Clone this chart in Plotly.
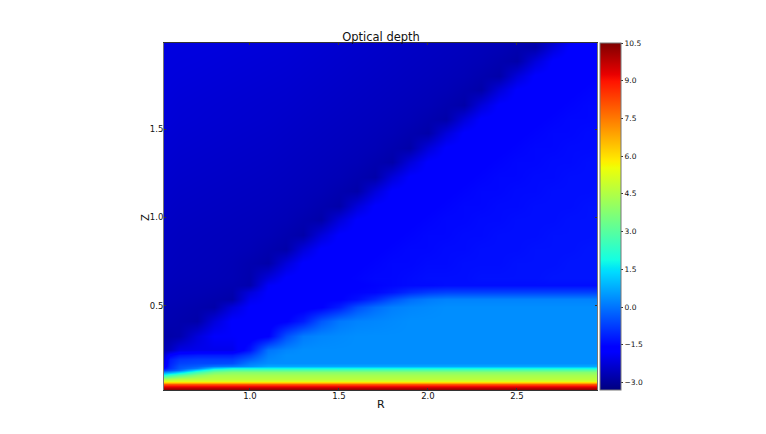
import plotly.graph_objects as go

R_VALUES = [0.5, 0.55, 0.6, 0.7, 0.8, 0.9, 1.0, 1.1, 1.2, 1.3, 1.4, 1.5, 1.6, 1.7, 1.8, 1.9,
            2.0, 2.1, 2.2, 2.3, 2.4, 2.5, 2.6, 2.7, 2.8, 2.9, 3.0]

Z_VALUES = [0.0, 0.025, 0.035, 0.048, 0.058, 0.065, 0.076, 0.09, 0.11, 0.125, 0.138, 0.15, 0.16,
            0.175, 0.2, 0.225, 0.25, 0.332, 0.413, 0.495, 0.54, 0.577, 0.62, 0.658, 0.74,
            0.822, 0.903, 0.985, 1.067, 1.148, 1.23, 1.312, 1.393, 1.475, 1.557, 1.638,
            1.72, 1.802, 1.883, 1.965, 2.05]

# optical depth, bottom row first
DEPTH = [
    [10.5] * 27,
    [10.5] * 27,
    [9.9] * 27,
    [9.1] * 27,
    [8.0] * 27,
    [6.9] * 27,
    [5.2] * 27,
    [4.4, 4.5] + [4.7] * 25,
    [1.8, 2.5, 3.0, 3.8] + [4.3] * 23,
    [0.2, 0.6, 1.2, 2.6, 3.5] + [3.8] * 22,
    [-1.0, -0.5, -0.1, 1.4, 2.6] + [3.0] * 22,
    [-1.8, -0.9, -0.4, 0.1, 1.3] + [1.8] * 22,
    [-2.3, -1.0, -0.5, -0.3, 0.0, 0.1, 0.4] + [0.7] * 20,
    [-2.5, -1.1, -0.7, -0.6, -0.6, -0.55, 0.1] + [0.35] * 20,
    [-2.6, -1.2, -0.9, -0.8, -0.8, -0.8, -0.3, 0.25] + [0.35] * 19,
    [-2.7, -1.6, -1.3, -1.2, -1.2, -1.2, -0.7, 0.15] + [0.35] * 19,
    [-2.75, -2.5, -2.1, -2.0, -2.0, -2.0, -1.3, 0.0, 0.25] + [0.35] * 18,
    [-2.8, -2.8, -2.75, -2.2, -1.8, -1.8, -1.75, -1.6, -0.5, 0.1, 0.25, 0.3] + [0.35] * 15,
    [-2.72, -2.72, -2.75, -2.8, -2.2, -1.75, -1.75, -1.7, -1.6, -1.2, -0.4, 0.05, 0.2, 0.25, 0.3] + [0.35] * 12,
    [-2.65, -2.68, -2.7, -2.75, -2.8, -2.2, -1.75, -1.75, -1.7, -1.7, -1.6, -1.2, -0.5, -0.1, 0.15, 0.25, 0.3] + [0.35] * 10,
    [-2.62, -2.64, -2.66, -2.7, -2.75, -2.8, -1.95, -1.75, -1.7, -1.7, -1.6, -1.6, -1.4, -1.0, -0.5, -0.1, 0.1] + [0.2] * 10,
    [-2.6, -2.62, -2.64, -2.66, -2.7, -2.75, -2.2, -1.75, -1.7, -1.7, -1.65, -1.6, -1.55, -1.5, -1.3, -1.0, -0.8] + [-0.7] * 10,
    [-2.58, -2.6, -2.62, -2.64, -2.66, -2.7, -2.75, -1.85, -1.7, -1.7, -1.65, -1.6, -1.6, -1.55, -1.5, -1.45, -1.45] + [-1.4] * 10,
    [-2.55, -2.57, -2.59, -2.61, -2.63, -2.66, -2.75, -2.2, -1.75, -1.7, -1.65, -1.6, -1.55, -1.5, -1.5, -1.45, -1.4,
     -1.4, -1.4, -1.35, -1.35, -1.35, -1.35, -1.3, -1.3, -1.3, -1.3],
    [-2.52, -2.54, -2.56, -2.58, -2.6, -2.64, -2.72, -2.8, -2.2, -1.75, -1.7, -1.65, -1.6, -1.55, -1.5, -1.5, -1.45,
     -1.45, -1.4, -1.4, -1.4, -1.35, -1.35, -1.35, -1.3, -1.3, -1.3],
    [-2.5, -2.52, -2.54, -2.56, -2.58, -2.6, -2.64, -2.72, -2.8, -2.2, -1.75, -1.7, -1.65, -1.6, -1.55, -1.5, -1.5,
     -1.45, -1.45, -1.4, -1.4, -1.4, -1.35, -1.35, -1.35, -1.3, -1.3],
    [-2.48, -2.5, -2.52, -2.54, -2.56, -2.58, -2.6, -2.64, -2.72, -2.8, -2.2, -1.75, -1.7, -1.65, -1.6, -1.55, -1.5,
     -1.5, -1.45, -1.45, -1.4, -1.4, -1.4, -1.35, -1.35, -1.35, -1.3],
    [-2.45, -2.47, -2.49, -2.51, -2.53, -2.55, -2.57, -2.6, -2.64, -2.72, -2.8, -2.2, -1.75, -1.7, -1.65, -1.6, -1.55,
     -1.5, -1.5, -1.45, -1.45, -1.4, -1.4, -1.4, -1.35, -1.35, -1.35],
    [-2.42, -2.44, -2.46, -2.48, -2.5, -2.52, -2.54, -2.56, -2.6, -2.64, -2.72, -2.8, -2.2, -1.75, -1.7, -1.65, -1.6,
     -1.55, -1.5, -1.5, -1.45, -1.45, -1.4, -1.4, -1.4, -1.35, -1.35],
    [-2.39, -2.41, -2.43, -2.45, -2.47, -2.49, -2.51, -2.53, -2.56, -2.6, -2.64, -2.72, -2.8, -2.2, -1.75, -1.7, -1.65,
     -1.6, -1.55, -1.5, -1.5, -1.45, -1.45, -1.4, -1.4, -1.4, -1.35],
    [-2.36, -2.38, -2.4, -2.42, -2.44, -2.46, -2.48, -2.5, -2.53, -2.56, -2.6, -2.64, -2.72, -2.8, -2.2, -1.75, -1.7,
     -1.65, -1.6, -1.55, -1.5, -1.5, -1.45, -1.45, -1.4, -1.4, -1.4],
    [-2.33, -2.35, -2.37, -2.39, -2.41, -2.43, -2.45, -2.47, -2.5, -2.53, -2.56, -2.6, -2.64, -2.72, -2.8, -2.2, -1.75,
     -1.7, -1.65, -1.6, -1.55, -1.5, -1.5, -1.45, -1.45, -1.4, -1.4],
    [-2.3, -2.32, -2.34, -2.36, -2.38, -2.4, -2.42, -2.44, -2.47, -2.5, -2.53, -2.56, -2.6, -2.64, -2.72, -2.8, -2.2,
     -1.75, -1.7, -1.65, -1.6, -1.55, -1.5, -1.5, -1.45, -1.45, -1.4],
    [-2.27, -2.29, -2.31, -2.33, -2.35, -2.37, -2.39, -2.41, -2.44, -2.47, -2.5, -2.53, -2.56, -2.6, -2.64, -2.72, -2.8,
     -2.2, -1.75, -1.7, -1.65, -1.6, -1.55, -1.5, -1.5, -1.45, -1.45],
    [-2.24, -2.26, -2.28, -2.3, -2.32, -2.34, -2.36, -2.38, -2.41, -2.44, -2.47, -2.5, -2.53, -2.56, -2.6, -2.64, -2.72,
     -2.8, -2.2, -1.75, -1.7, -1.65, -1.6, -1.55, -1.5, -1.5, -1.45],
    [-2.22, -2.24, -2.26, -2.28, -2.3, -2.32, -2.34, -2.36, -2.38, -2.41, -2.44, -2.47, -2.5, -2.53, -2.56, -2.6, -2.64,
     -2.72, -2.8, -2.2, -1.75, -1.7, -1.65, -1.6, -1.55, -1.5, -1.5],
    [-2.2, -2.21, -2.23, -2.25, -2.27, -2.29, -2.31, -2.33, -2.35, -2.38, -2.41, -2.44, -2.47, -2.5, -2.53, -2.56, -2.6,
     -2.64, -2.72, -2.8, -2.2, -1.75, -1.7, -1.65, -1.6, -1.55, -1.5],
    [-2.18, -2.19, -2.2, -2.22, -2.24, -2.26, -2.28, -2.3, -2.32, -2.35, -2.38, -2.41, -2.44, -2.47, -2.5, -2.53, -2.56,
     -2.6, -2.64, -2.72, -2.8, -2.2, -1.75, -1.7, -1.65, -1.6, -1.55],
    [-2.16, -2.17, -2.18, -2.19, -2.21, -2.23, -2.25, -2.27, -2.29, -2.32, -2.35, -2.38, -2.41, -2.44, -2.47, -2.5, -2.53,
     -2.56, -2.6, -2.64, -2.72, -2.8, -2.2, -1.75, -1.7, -1.65, -1.6],
    [-2.14, -2.15, -2.16, -2.17, -2.18, -2.2, -2.22, -2.24, -2.26, -2.29, -2.32, -2.35, -2.38, -2.41, -2.44, -2.47, -2.5,
     -2.53, -2.56, -2.6, -2.64, -2.72, -2.8, -2.2, -1.75, -1.7, -1.65],
    [-2.12, -2.13, -2.14, -2.15, -2.16, -2.18, -2.2, -2.22, -2.24, -2.26, -2.29, -2.32, -2.35, -2.38, -2.41, -2.44, -2.47,
     -2.5, -2.53, -2.56, -2.6, -2.64, -2.72, -2.8, -2.2, -1.75, -1.7],
]

CBAR_TICKS = [-3.0, -1.5, 0.0, 1.5, 3.0, 4.5, 6.0, 7.5, 9.0, 10.5]

# same stops as matplotlib's jet
JET = [
    [0.0, "rgb(0,0,127)"], [0.11, "rgb(0,0,255)"], [0.125, "rgb(0,0,255)"],
    [0.34, "rgb(0,219,255)"], [0.35, "rgb(0,229,247)"], [0.375, "rgb(20,255,226)"],
    [0.64, "rgb(238,255,8)"], [0.65, "rgb(247,246,0)"], [0.66, "rgb(255,237,0)"],
    [0.89, "rgb(255,19,0)"], [0.91, "rgb(232,0,0)"], [1.0, "rgb(127,0,0)"],
]

FONT = "DejaVu Sans"

fig = go.Figure(go.Heatmap(
    x=R_VALUES,
    y=Z_VALUES,
    z=DEPTH,
    zsmooth="best",
    zmin=-3.3,
    zmax=10.5,
    colorscale=JET,
    colorbar=dict(
        x=1.0069, xanchor="left", xpad=0, y=0.5, ypad=0, len=1, thickness=21,
        tickvals=CBAR_TICKS, tickformat=".1f", ticks="outside", ticklen=2, tickwidth=1,
        tickcolor="#333333", tickfont=dict(family=FONT, size=7.5, color="#111111"),
        outlinecolor="#777777", outlinewidth=1,
    ),
))

# the page adds 8px of body margin, so the figure is 8px smaller on the top and left
fig.update_layout(
    width=758,
    height=426,
    margin=dict(l=156, r=169, t=35, b=44),
    paper_bgcolor="white",
    plot_bgcolor="white",
    font=dict(family=FONT, color="#111111"),
    title=dict(text="Optical depth", x=373 / 758, xanchor="center", y=1 - 29 / 426, yanchor="middle",
               font=dict(size=11.5)),
    annotations=[
        dict(text="R", xref="paper", yref="paper", x=0.501, y=-0.043, showarrow=False,
             xanchor="center", yanchor="middle", font=dict(size=11)),
        dict(text="Z", xref="paper", yref="paper", x=-0.0416, y=0.4986, showarrow=False,
             xanchor="center", yanchor="middle", textangle=-90, font=dict(size=10)),
    ],
)
fig.update_xaxes(
    range=[0.517, 2.95], tickvals=[1.0, 1.5, 2.0, 2.5], tickformat=".1f",
    showgrid=False, zeroline=False, showline=True, linecolor="#333333", linewidth=1, mirror="allticks",
    ticks="inside", ticklen=2, tickcolor="#333333", tickfont=dict(size=8.5), ticklabelstandoff=-2,
)
fig.update_yaxes(
    range=[0.025, 1.986], tickvals=[0.5, 1.0, 1.5], tickformat=".1f",
    showgrid=False, zeroline=False, showline=True, linecolor="#777777", linewidth=1, mirror="allticks",
    ticks="inside", ticklen=2, tickcolor="#333333", tickfont=dict(size=8.5), ticklabelstandoff=-2,
)

fig.write_html("out.html")
